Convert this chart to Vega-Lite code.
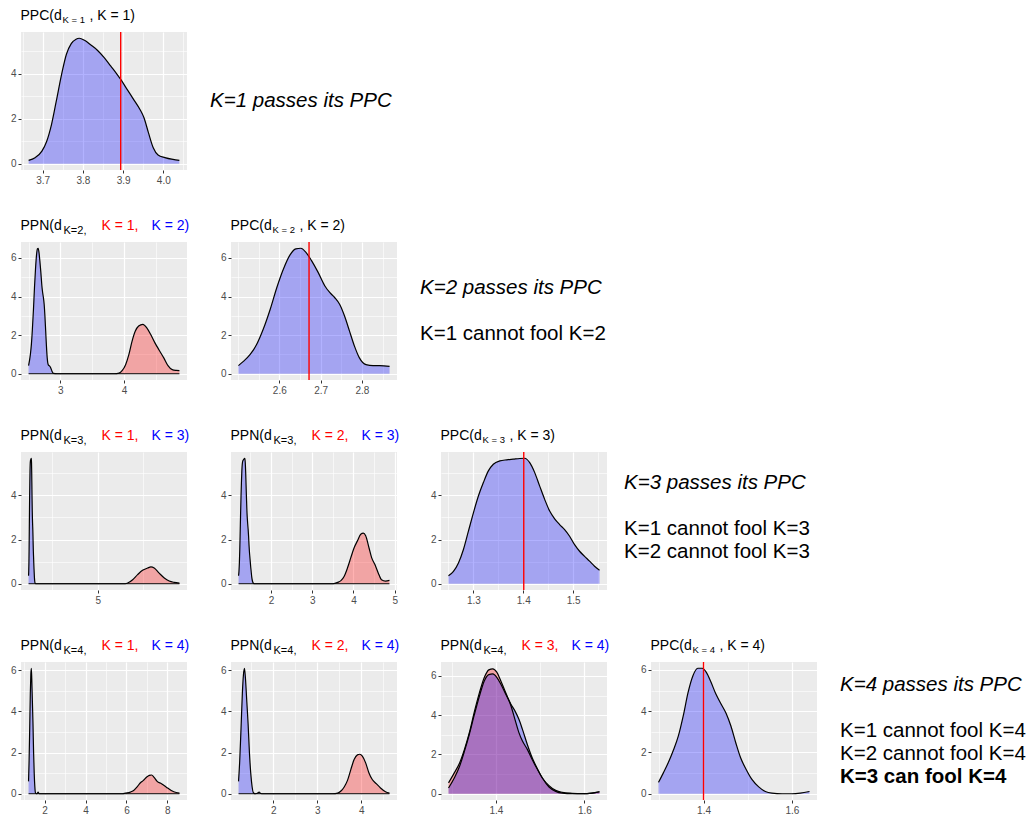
{
"$schema":"https://vega.github.io/schema/vega-lite/v6.json",
"background":"white",
"padding":{"left":10,"top":8,"right":2,"bottom":2},
"columns":5,
"bounds":"flush",
"spacing":{"row":72,"column":44},
"config":{"view":{"stroke":null},"font":"Liberation Sans",
 "axis":{"domain":false,"grid":true,"gridColor":"#FFFFFF","labelOverlap":false,"labelFlush":false,"labelFont":"Liberation Sans","labelFontSize":10,"labelColor":"#4D4D4D","labelPadding":2,"tickColor":"#333333","tickSize":3,"titleFont":"Liberation Sans","titleFontSize":13,"titleFontWeight":"normal","titleColor":"black","titleAngle":0,"titleAlign":"left","titleBaseline":"alphabetic"}},
"concat":[
{"width":166,"height":138,"view":{"fill":"#EBEBEB","stroke":null},
 "resolve":{"axis":{"x":"independent","y":"independent"}},
 "data":{"values":[{"s":"b","x":3.665,"y":0.15},{"s":"b","x":3.681,"y":0.27},{"s":"b","x":3.698,"y":0.56},{"s":"b","x":3.71,"y":1.0},{"s":"b","x":3.722,"y":1.75},{"s":"b","x":3.734,"y":2.8},{"s":"b","x":3.747,"y":3.97},{"s":"b","x":3.759,"y":4.86},{"s":"b","x":3.771,"y":5.33},{"s":"b","x":3.783,"y":5.53},{"s":"b","x":3.791,"y":5.57},{"s":"b","x":3.804,"y":5.48},{"s":"b","x":3.82,"y":5.27},{"s":"b","x":3.836,"y":5.04},{"s":"b","x":3.853,"y":4.71},{"s":"b","x":3.869,"y":4.34},{"s":"b","x":3.885,"y":3.97},{"s":"b","x":3.895,"y":3.72},{"s":"b","x":3.91,"y":3.3},{"s":"b","x":3.926,"y":2.86},{"s":"b","x":3.942,"y":2.41},{"s":"b","x":3.952,"y":2.04},{"s":"b","x":3.963,"y":1.38},{"s":"b","x":3.975,"y":0.71},{"s":"b","x":3.987,"y":0.39},{"s":"b","x":4.004,"y":0.27},{"s":"b","x":4.024,"y":0.19},{"s":"b","x":4.04,"y":0.15}]},
 "layer":[
  {"mark":{"type":"area","interpolate":"monotone","opacity":0.3},
   "encoding":{
    "x":{"field":"x","type":"quantitative","scale":{"domain":[3.646,4.059],"nice":false,"zero":false},
     "axis":{"values":[3.65,3.7,3.75,3.8,3.85,3.9,3.95,4,4.05],"format":".1f","labelExpr":"indexof([3.7,3.8,3.9,4], datum.value) >= 0 ? datum.label : ''","gridWidth":{"condition":{"test":"indexof([3.7,3.8,3.9,4], datum.value) >= 0","value":1.2},"value":0.6},"tickOpacity":{"condition":{"test":"indexof([3.7,3.8,3.9,4], datum.value) >= 0","value":1},"value":0},
      "title":"PPC(d","titleFontSize":14,"titleX":-1,"titleY":-150.5}},
    "y":{"field":"y","type":"quantitative","stack":null,"scale":{"domain":[-0.2785,5.8485],"nice":false,"zero":false},
     "axis":{"values":[0,1,2,3,4,5],"format":"d","labelExpr":"datum.value % 2 == 0 ? datum.label : ''","gridWidth":{"condition":{"test":"datum.value % 2 == 0","value":1.2},"value":0.6},"tickOpacity":{"condition":{"test":"datum.value % 2 == 0","value":1},"value":0},
      "title":", K = 1)","titleFontSize":14,"titleX":68,"titleY":-12.5}},
    "color":{"field":"s","type":"nominal","scale":{"domain":["r","b"],"range":["#FF0000","#0000FF"]},"legend":null}}},
  {"mark":{"type":"line","interpolate":"monotone","color":"black","strokeWidth":1.2},
   "encoding":{"x":{"field":"x","type":"quantitative","axis":{"orient":"top","labels":false,"ticks":false,"grid":false,"domain":false,"title":"K  =  1","titleFontSize":9.5,"titleX":41,"titleY":-10}},
    "y":{"field":"y","type":"quantitative","axis":null},"detail":{"field":"s","type":"nominal"}}},
  {"data":{"values":[{"x":3.894}]},"mark":{"type":"rule","color":"red","strokeWidth":1.4},"encoding":{"x":{"field":"x","type":"quantitative","axis":null}}}
 ]},
{"width":166,"height":138,
 "data":{"values":[{"line":0,"t":"K=1 passes its PPC","f":"i"}]},
 "encoding":{"y":{"field":"line","type":"quantitative","scale":{"domain":[-3,3],"reverse":true,"nice":false,"zero":false},"axis":null},"x":{"datum":0,"type":"quantitative","scale":{"domain":[0,1]},"axis":null},"text":{"field":"t"}},
 "layer":[
  {"transform":[{"filter":"datum.f == 'i'"}],"mark":{"type":"text","align":"left","baseline":"middle","dx":-21,"fontSize":20.5,"fontStyle":"italic","font":"Liberation Sans","color":"black"}}
 ]},
{"width":166,"height":138,"data":{"values":[]},"mark":"point"},
{"width":166,"height":138,"data":{"values":[]},"mark":"point"},
{"width":166,"height":138,"data":{"values":[]},"mark":"point"},

{"width":166,"height":138,"view":{"fill":"#EBEBEB","stroke":null},
 "resolve":{"axis":{"x":"independent","y":"independent"}},
 "data":{"values":[
  {"s":"b","x":2.501,"y":0.42},{"s":"b","x":2.529,"y":0.99},{"s":"b","x":2.545,"y":1.51},{"s":"b","x":2.561,"y":2.3},{"s":"b","x":2.578,"y":3.34},{"s":"b","x":2.594,"y":4.47},{"s":"b","x":2.61,"y":5.43},{"s":"b","x":2.626,"y":6.16},{"s":"b","x":2.64,"y":6.47},{"s":"b","x":2.652,"y":6.5},{"s":"b","x":2.664,"y":6.3},{"s":"b","x":2.678,"y":5.86},{"s":"b","x":2.694,"y":5.25},{"s":"b","x":2.71,"y":4.56},{"s":"b","x":2.722,"y":4.21},{"s":"b","x":2.734,"y":3.95},{"s":"b","x":2.746,"y":3.6},{"s":"b","x":2.758,"y":2.99},{"s":"b","x":2.77,"y":2.21},{"s":"b","x":2.782,"y":1.43},{"s":"b","x":2.794,"y":0.82},{"s":"b","x":2.81,"y":0.47},{"s":"b","x":2.83,"y":0.4},{"s":"b","x":2.85,"y":0.3},{"s":"b","x":2.87,"y":0.12},{"s":"b","x":2.89,"y":0.02},{"s":"b","x":2.95,"y":0},{"s":"b","x":4.872,"y":0},
  {"s":"r","x":2.501,"y":0},{"s":"r","x":3.85,"y":0},{"s":"r","x":3.923,"y":0.03},{"s":"r","x":3.974,"y":0.17},{"s":"r","x":4.026,"y":0.47},{"s":"r","x":4.077,"y":0.99},{"s":"r","x":4.128,"y":1.69},{"s":"r","x":4.179,"y":2.21},{"s":"r","x":4.231,"y":2.47},{"s":"r","x":4.297,"y":2.56},{"s":"r","x":4.359,"y":2.38},{"s":"r","x":4.421,"y":2.03},{"s":"r","x":4.487,"y":1.6},{"s":"r","x":4.554,"y":1.22},{"s":"r","x":4.626,"y":0.82},{"s":"r","x":4.692,"y":0.42},{"s":"r","x":4.759,"y":0.21},{"s":"r","x":4.821,"y":0.17},{"s":"r","x":4.872,"y":0.16}]},
 "layer":[
  {"mark":{"type":"area","interpolate":"monotone","opacity":0.3},
   "encoding":{
    "x":{"field":"x","type":"quantitative","scale":{"domain":[2.382,4.991],"nice":false,"zero":false},
     "axis":{"values":[2.5,3,3.5,4,4.5],"format":".0f","labelExpr":"indexof([3,4], datum.value) >= 0 ? datum.label : ''","gridWidth":{"condition":{"test":"indexof([3,4], datum.value) >= 0","value":1.2},"value":0.6},"tickOpacity":{"condition":{"test":"indexof([3,4], datum.value) >= 0","value":1},"value":0},
      "title":"PPN(d","titleFontSize":14,"titleX":-1,"titleY":-150.5}},
    "y":{"field":"y","type":"quantitative","stack":null,"scale":{"domain":[-0.325,6.825],"nice":false,"zero":false},
     "axis":{"values":[0,1,2,3,4,5,6],"format":"d","labelExpr":"datum.value % 2 == 0 ? datum.label : ''","gridWidth":{"condition":{"test":"datum.value % 2 == 0","value":1.2},"value":0.6},"tickOpacity":{"condition":{"test":"datum.value % 2 == 0","value":1},"value":0},
      "title":"K = 1,","titleColor":"#FF0000","titleFontSize":14,"titleX":80,"titleY":-12.5}},
    "color":{"field":"s","type":"nominal","scale":{"domain":["r","b"],"range":["#FF0000","#0000FF"]},"legend":null}}},
  {"mark":{"type":"line","interpolate":"monotone","color":"black","strokeWidth":1.2},
   "encoding":{"x":{"field":"x","type":"quantitative","axis":{"orient":"top","labels":false,"ticks":false,"grid":false,"domain":false,"title":"K=2,","titleFontSize":11,"titleX":42,"titleY":-8.5}},
    "y":{"field":"y","type":"quantitative","axis":{"orient":"right","labels":false,"ticks":false,"grid":false,"domain":false,"title":"K = 2)","titleColor":"#0000FF","titleFontSize":14,"titleX":-36,"titleY":-12.5}},"detail":{"field":"s","type":"nominal"}}}
 ]},
{"width":166,"height":138,"view":{"fill":"#EBEBEB","stroke":null},
 "resolve":{"axis":{"x":"independent","y":"independent"}},
 "data":{"values":[{"s":"b","x":2.501,"y":0.42},{"s":"b","x":2.513,"y":0.64},{"s":"b","x":2.529,"y":0.99},{"s":"b","x":2.545,"y":1.51},{"s":"b","x":2.561,"y":2.3},{"s":"b","x":2.578,"y":3.34},{"s":"b","x":2.594,"y":4.47},{"s":"b","x":2.61,"y":5.43},{"s":"b","x":2.626,"y":6.16},{"s":"b","x":2.64,"y":6.47},{"s":"b","x":2.652,"y":6.5},{"s":"b","x":2.664,"y":6.3},{"s":"b","x":2.678,"y":5.86},{"s":"b","x":2.694,"y":5.25},{"s":"b","x":2.71,"y":4.56},{"s":"b","x":2.722,"y":4.21},{"s":"b","x":2.734,"y":3.95},{"s":"b","x":2.746,"y":3.6},{"s":"b","x":2.758,"y":2.99},{"s":"b","x":2.77,"y":2.21},{"s":"b","x":2.782,"y":1.43},{"s":"b","x":2.794,"y":0.82},{"s":"b","x":2.81,"y":0.47},{"s":"b","x":2.827,"y":0.42},{"s":"b","x":2.843,"y":0.42},{"s":"b","x":2.867,"y":0.38}]},
 "layer":[
  {"mark":{"type":"area","interpolate":"monotone","opacity":0.3},
   "encoding":{
    "x":{"field":"x","type":"quantitative","scale":{"domain":[2.483,2.885],"nice":false,"zero":false},
     "axis":{"values":[2.5,2.55,2.6,2.65,2.7,2.75,2.8,2.85],"format":".1f","labelExpr":"indexof([2.6,2.7,2.8], datum.value) >= 0 ? datum.label : ''","gridWidth":{"condition":{"test":"indexof([2.6,2.7,2.8], datum.value) >= 0","value":1.2},"value":0.6},"tickOpacity":{"condition":{"test":"indexof([2.6,2.7,2.8], datum.value) >= 0","value":1},"value":0},
      "title":"PPC(d","titleFontSize":14,"titleX":-1,"titleY":-150.5}},
    "y":{"field":"y","type":"quantitative","stack":null,"scale":{"domain":[-0.325,6.825],"nice":false,"zero":false},
     "axis":{"values":[0,1,2,3,4,5,6],"format":"d","labelExpr":"datum.value % 2 == 0 ? datum.label : ''","gridWidth":{"condition":{"test":"datum.value % 2 == 0","value":1.2},"value":0.6},"tickOpacity":{"condition":{"test":"datum.value % 2 == 0","value":1},"value":0},
      "title":", K = 2)","titleFontSize":14,"titleX":68,"titleY":-12.5}},
    "color":{"field":"s","type":"nominal","scale":{"domain":["r","b"],"range":["#FF0000","#0000FF"]},"legend":null}}},
  {"mark":{"type":"line","interpolate":"monotone","color":"black","strokeWidth":1.2},
   "encoding":{"x":{"field":"x","type":"quantitative","axis":{"orient":"top","labels":false,"ticks":false,"grid":false,"domain":false,"title":"K  =  2","titleFontSize":9.5,"titleX":41,"titleY":-10}},
    "y":{"field":"y","type":"quantitative","axis":null},"detail":{"field":"s","type":"nominal"}}},
  {"data":{"values":[{"x":2.672}]},"mark":{"type":"rule","color":"red","strokeWidth":1.4},"encoding":{"x":{"field":"x","type":"quantitative","axis":null}}}
 ]},
{"width":166,"height":138,
 "data":{"values":[{"line":0,"t":"K=2 passes its PPC","f":"i"},{"line":2,"t":"K=1 cannot fool K=2","f":"n"}]},
 "encoding":{"y":{"field":"line","type":"quantitative","scale":{"domain":[-2,4],"reverse":true,"nice":false,"zero":false},"axis":null},"x":{"datum":0,"type":"quantitative","scale":{"domain":[0,1]},"axis":null},"text":{"field":"t"}},
 "layer":[
  {"transform":[{"filter":"datum.f == 'i'"}],"mark":{"type":"text","align":"left","baseline":"middle","dx":-21,"fontSize":20.5,"fontStyle":"italic","font":"Liberation Sans","color":"black"}},
  {"transform":[{"filter":"datum.f == 'n'"}],"mark":{"type":"text","align":"left","baseline":"middle","dx":-21,"fontSize":20.5,"font":"Liberation Sans","color":"black"}}
 ]},
{"width":166,"height":138,"data":{"values":[]},"mark":"point"},
{"width":166,"height":138,"data":{"values":[]},"mark":"point"},

{"width":166,"height":138,"view":{"fill":"#EBEBEB","stroke":null},
 "resolve":{"axis":{"x":"independent","y":"independent"}},
 "data":{"values":[
  {"s":"b","x":1.215,"y":0.36},{"s":"b","x":1.225,"y":0.56},{"s":"b","x":1.235,"y":0.94},{"s":"b","x":1.245,"y":1.55},{"s":"b","x":1.255,"y":2.38},{"s":"b","x":1.265,"y":3.21},{"s":"b","x":1.275,"y":3.97},{"s":"b","x":1.285,"y":4.58},{"s":"b","x":1.295,"y":5.11},{"s":"b","x":1.305,"y":5.41},{"s":"b","x":1.318,"y":5.56},{"s":"b","x":1.332,"y":5.61},{"s":"b","x":1.345,"y":5.64},{"s":"b","x":1.358,"y":5.67},{"s":"b","x":1.368,"y":5.68},{"s":"b","x":1.378,"y":5.48},{"s":"b","x":1.388,"y":5.03},{"s":"b","x":1.398,"y":4.42},{"s":"b","x":1.408,"y":3.82},{"s":"b","x":1.418,"y":3.29},{"s":"b","x":1.428,"y":2.94},{"s":"b","x":1.438,"y":2.68},{"s":"b","x":1.448,"y":2.45},{"s":"b","x":1.458,"y":2.15},{"s":"b","x":1.468,"y":1.77},{"s":"b","x":1.478,"y":1.47},{"s":"b","x":1.488,"y":1.24},{"s":"b","x":1.498,"y":1.02},{"s":"b","x":1.508,"y":0.79},{"s":"b","x":1.518,"y":0.61},{"s":"b","x":1.535,"y":0.3},{"s":"b","x":1.555,"y":0.1},{"s":"b","x":1.576,"y":0.02},{"s":"b","x":1.6,"y":0},{"s":"b","x":9.47,"y":0},
  {"s":"r","x":1.215,"y":0},{"s":"r","x":6.5,"y":0},{"s":"r","x":6.64,"y":0.03},{"s":"r","x":6.91,"y":0.18},{"s":"r","x":7.18,"y":0.41},{"s":"r","x":7.45,"y":0.61},{"s":"r","x":7.73,"y":0.71},{"s":"r","x":7.91,"y":0.76},{"s":"r","x":8.09,"y":0.71},{"s":"r","x":8.36,"y":0.48},{"s":"r","x":8.64,"y":0.26},{"s":"r","x":8.91,"y":0.12},{"s":"r","x":9.18,"y":0.06},{"s":"r","x":9.47,"y":0.03}]},
 "layer":[
  {"mark":{"type":"area","interpolate":"monotone","opacity":0.3},
   "encoding":{
    "x":{"field":"x","type":"quantitative","scale":{"domain":[0.802,9.883],"nice":false,"zero":false},
     "axis":{"values":[2.5,5,7.5],"format":".0f","labelExpr":"datum.value == 5 ? datum.label : ''","gridWidth":{"condition":{"test":"datum.value == 5","value":1.2},"value":0.6},"tickOpacity":{"condition":{"test":"datum.value == 5","value":1},"value":0},
      "title":"PPN(d","titleFontSize":14,"titleX":-1,"titleY":-150.5}},
    "y":{"field":"y","type":"quantitative","stack":null,"scale":{"domain":[-0.284,5.964],"nice":false,"zero":false},
     "axis":{"values":[0,1,2,3,4,5],"format":"d","labelExpr":"datum.value % 2 == 0 ? datum.label : ''","gridWidth":{"condition":{"test":"datum.value % 2 == 0","value":1.2},"value":0.6},"tickOpacity":{"condition":{"test":"datum.value % 2 == 0","value":1},"value":0},
      "title":"K = 1,","titleColor":"#FF0000","titleFontSize":14,"titleX":80,"titleY":-12.5}},
    "color":{"field":"s","type":"nominal","scale":{"domain":["r","b"],"range":["#FF0000","#0000FF"]},"legend":null}}},
  {"mark":{"type":"line","interpolate":"monotone","color":"black","strokeWidth":1.2},
   "encoding":{"x":{"field":"x","type":"quantitative","axis":{"orient":"top","labels":false,"ticks":false,"grid":false,"domain":false,"title":"K=3,","titleFontSize":11,"titleX":42,"titleY":-8.5}},
    "y":{"field":"y","type":"quantitative","axis":{"orient":"right","labels":false,"ticks":false,"grid":false,"domain":false,"title":"K = 3)","titleColor":"#0000FF","titleFontSize":14,"titleX":-36,"titleY":-12.5}},"detail":{"field":"s","type":"nominal"}}}
 ]},
{"width":166,"height":138,"view":{"fill":"#EBEBEB","stroke":null},
 "resolve":{"axis":{"x":"independent","y":"independent"}},
 "data":{"values":[
  {"s":"b","x":1.215,"y":0.36},{"s":"b","x":1.225,"y":0.56},{"s":"b","x":1.235,"y":0.94},{"s":"b","x":1.245,"y":1.55},{"s":"b","x":1.255,"y":2.38},{"s":"b","x":1.265,"y":3.21},{"s":"b","x":1.275,"y":3.97},{"s":"b","x":1.285,"y":4.58},{"s":"b","x":1.295,"y":5.11},{"s":"b","x":1.305,"y":5.41},{"s":"b","x":1.318,"y":5.56},{"s":"b","x":1.332,"y":5.61},{"s":"b","x":1.345,"y":5.64},{"s":"b","x":1.358,"y":5.67},{"s":"b","x":1.368,"y":5.68},{"s":"b","x":1.378,"y":5.48},{"s":"b","x":1.388,"y":5.03},{"s":"b","x":1.398,"y":4.42},{"s":"b","x":1.408,"y":3.82},{"s":"b","x":1.418,"y":3.29},{"s":"b","x":1.428,"y":2.94},{"s":"b","x":1.438,"y":2.68},{"s":"b","x":1.448,"y":2.45},{"s":"b","x":1.458,"y":2.15},{"s":"b","x":1.468,"y":1.77},{"s":"b","x":1.478,"y":1.47},{"s":"b","x":1.488,"y":1.24},{"s":"b","x":1.498,"y":1.02},{"s":"b","x":1.508,"y":0.79},{"s":"b","x":1.518,"y":0.61},{"s":"b","x":1.535,"y":0.3},{"s":"b","x":1.555,"y":0.1},{"s":"b","x":1.576,"y":0.02},{"s":"b","x":1.6,"y":0},{"s":"b","x":4.872,"y":0},
  {"s":"r","x":1.215,"y":0},{"s":"r","x":3.5,"y":0},{"s":"r","x":3.616,"y":0.06},{"s":"r","x":3.696,"y":0.14},{"s":"r","x":3.776,"y":0.34},{"s":"r","x":3.856,"y":0.72},{"s":"r","x":3.936,"y":1.18},{"s":"r","x":4.016,"y":1.63},{"s":"r","x":4.096,"y":1.94},{"s":"r","x":4.176,"y":2.24},{"s":"r","x":4.24,"y":2.29},{"s":"r","x":4.296,"y":2.17},{"s":"r","x":4.376,"y":1.63},{"s":"r","x":4.44,"y":1.18},{"s":"r","x":4.52,"y":0.87},{"s":"r","x":4.6,"y":0.49},{"s":"r","x":4.68,"y":0.18},{"s":"r","x":4.776,"y":0.12},{"s":"r","x":4.872,"y":0.15}]},
 "layer":[
  {"mark":{"type":"area","interpolate":"monotone","opacity":0.3},
   "encoding":{
    "x":{"field":"x","type":"quantitative","scale":{"domain":[1.032,5.055],"nice":false,"zero":false},
     "axis":{"values":[1.5,2,2.5,3,3.5,4,4.5,5],"format":".0f","labelExpr":"indexof([2,3,4,5], datum.value) >= 0 ? datum.label : ''","gridWidth":{"condition":{"test":"indexof([2,3,4,5], datum.value) >= 0","value":1.2},"value":0.6},"tickOpacity":{"condition":{"test":"indexof([2,3,4,5], datum.value) >= 0","value":1},"value":0},
      "title":"PPN(d","titleFontSize":14,"titleX":-1,"titleY":-150.5}},
    "y":{"field":"y","type":"quantitative","stack":null,"scale":{"domain":[-0.284,5.964],"nice":false,"zero":false},
     "axis":{"values":[0,1,2,3,4,5],"format":"d","labelExpr":"datum.value % 2 == 0 ? datum.label : ''","gridWidth":{"condition":{"test":"datum.value % 2 == 0","value":1.2},"value":0.6},"tickOpacity":{"condition":{"test":"datum.value % 2 == 0","value":1},"value":0},
      "title":"K = 2,","titleColor":"#FF0000","titleFontSize":14,"titleX":80,"titleY":-12.5}},
    "color":{"field":"s","type":"nominal","scale":{"domain":["r","b"],"range":["#FF0000","#0000FF"]},"legend":null}}},
  {"mark":{"type":"line","interpolate":"monotone","color":"black","strokeWidth":1.2},
   "encoding":{"x":{"field":"x","type":"quantitative","axis":{"orient":"top","labels":false,"ticks":false,"grid":false,"domain":false,"title":"K=3,","titleFontSize":11,"titleX":42,"titleY":-8.5}},
    "y":{"field":"y","type":"quantitative","axis":{"orient":"right","labels":false,"ticks":false,"grid":false,"domain":false,"title":"K = 3)","titleColor":"#0000FF","titleFontSize":14,"titleX":-36,"titleY":-12.5}},"detail":{"field":"s","type":"nominal"}}}
 ]},
{"width":166,"height":138,"view":{"fill":"#EBEBEB","stroke":null},
 "resolve":{"axis":{"x":"independent","y":"independent"}},
 "data":{"values":[{"s":"b","x":1.25,"y":0.36},{"s":"b","x":1.26,"y":0.56},{"s":"b","x":1.27,"y":0.94},{"s":"b","x":1.28,"y":1.55},{"s":"b","x":1.29,"y":2.38},{"s":"b","x":1.3,"y":3.21},{"s":"b","x":1.31,"y":3.97},{"s":"b","x":1.32,"y":4.58},{"s":"b","x":1.33,"y":5.11},{"s":"b","x":1.34,"y":5.41},{"s":"b","x":1.353,"y":5.56},{"s":"b","x":1.367,"y":5.61},{"s":"b","x":1.38,"y":5.64},{"s":"b","x":1.393,"y":5.67},{"s":"b","x":1.403,"y":5.68},{"s":"b","x":1.413,"y":5.48},{"s":"b","x":1.423,"y":5.03},{"s":"b","x":1.433,"y":4.42},{"s":"b","x":1.443,"y":3.82},{"s":"b","x":1.453,"y":3.29},{"s":"b","x":1.463,"y":2.94},{"s":"b","x":1.473,"y":2.68},{"s":"b","x":1.483,"y":2.45},{"s":"b","x":1.493,"y":2.15},{"s":"b","x":1.503,"y":1.77},{"s":"b","x":1.513,"y":1.47},{"s":"b","x":1.523,"y":1.24},{"s":"b","x":1.533,"y":1.02},{"s":"b","x":1.543,"y":0.79},{"s":"b","x":1.553,"y":0.61}]},
 "layer":[
  {"mark":{"type":"area","interpolate":"monotone","opacity":0.3},
   "encoding":{
    "x":{"field":"x","type":"quantitative","scale":{"domain":[1.235,1.568],"nice":false,"zero":false},
     "axis":{"values":[1.25,1.3,1.35,1.4,1.45,1.5,1.55],"format":".1f","labelExpr":"indexof([1.3,1.4,1.5], datum.value) >= 0 ? datum.label : ''","gridWidth":{"condition":{"test":"indexof([1.3,1.4,1.5], datum.value) >= 0","value":1.2},"value":0.6},"tickOpacity":{"condition":{"test":"indexof([1.3,1.4,1.5], datum.value) >= 0","value":1},"value":0},
      "title":"PPC(d","titleFontSize":14,"titleX":-1,"titleY":-150.5}},
    "y":{"field":"y","type":"quantitative","stack":null,"scale":{"domain":[-0.284,5.964],"nice":false,"zero":false},
     "axis":{"values":[0,1,2,3,4,5],"format":"d","labelExpr":"datum.value % 2 == 0 ? datum.label : ''","gridWidth":{"condition":{"test":"datum.value % 2 == 0","value":1.2},"value":0.6},"tickOpacity":{"condition":{"test":"datum.value % 2 == 0","value":1},"value":0},
      "title":", K = 3)","titleFontSize":14,"titleX":68,"titleY":-12.5}},
    "color":{"field":"s","type":"nominal","scale":{"domain":["r","b"],"range":["#FF0000","#0000FF"]},"legend":null}}},
  {"mark":{"type":"line","interpolate":"monotone","color":"black","strokeWidth":1.2},
   "encoding":{"x":{"field":"x","type":"quantitative","axis":{"orient":"top","labels":false,"ticks":false,"grid":false,"domain":false,"title":"K  =  3","titleFontSize":9.5,"titleX":41,"titleY":-10}},
    "y":{"field":"y","type":"quantitative","axis":null},"detail":{"field":"s","type":"nominal"}}},
  {"data":{"values":[{"x":1.401}]},"mark":{"type":"rule","color":"red","strokeWidth":1.4},"encoding":{"x":{"field":"x","type":"quantitative","axis":null}}}
 ]},
{"width":166,"height":138,
 "data":{"values":[{"line":0,"t":"K=3 passes its PPC","f":"i"},{"line":2,"t":"K=1 cannot fool K=3","f":"n"},{"line":3,"t":"K=2 cannot fool K=3","f":"n"}]},
 "encoding":{"y":{"field":"line","type":"quantitative","scale":{"domain":[-1.33,4.67],"reverse":true,"nice":false,"zero":false},"axis":null},"x":{"datum":0,"type":"quantitative","scale":{"domain":[0,1]},"axis":null},"text":{"field":"t"}},
 "layer":[
  {"transform":[{"filter":"datum.f == 'i'"}],"mark":{"type":"text","align":"left","baseline":"middle","dx":-27,"fontSize":20.5,"fontStyle":"italic","font":"Liberation Sans","color":"black"}},
  {"transform":[{"filter":"datum.f == 'n'"}],"mark":{"type":"text","align":"left","baseline":"middle","dx":-27,"fontSize":20.5,"font":"Liberation Sans","color":"black"}}
 ]},
{"width":166,"height":138,"data":{"values":[]},"mark":"point"},

{"width":166,"height":138,"view":{"fill":"#EBEBEB","stroke":null},
 "resolve":{"axis":{"x":"independent","y":"independent"}},
 "data":{"values":[
  {"s":"b","x":1.213,"y":0.6},{"s":"b","x":1.24,"y":1.6},{"s":"b","x":1.27,"y":3.2},{"s":"b","x":1.3,"y":4.9},{"s":"b","x":1.325,"y":5.8},{"s":"b","x":1.348,"y":6.1},{"s":"b","x":1.37,"y":5.6},{"s":"b","x":1.4,"y":4.5},{"s":"b","x":1.43,"y":3.4},{"s":"b","x":1.46,"y":2.0},{"s":"b","x":1.49,"y":1.0},{"s":"b","x":1.52,"y":0.35},{"s":"b","x":1.55,"y":0.05},{"s":"b","x":1.6,"y":0},{"s":"b","x":1.64,"y":0.02},{"s":"b","x":1.68,"y":0.08},{"s":"b","x":1.72,"y":0.01},{"s":"b","x":1.76,"y":0},{"s":"b","x":8.59,"y":0},
  {"s":"r","x":1.213,"y":0},{"s":"r","x":5.8,"y":0},{"s":"r","x":5.95,"y":0.03},{"s":"r","x":6.19,"y":0.08},{"s":"r","x":6.35,"y":0.16},{"s":"r","x":6.51,"y":0.32},{"s":"r","x":6.67,"y":0.52},{"s":"r","x":6.83,"y":0.65},{"s":"r","x":6.99,"y":0.81},{"s":"r","x":7.12,"y":0.89},{"s":"r","x":7.23,"y":0.91},{"s":"r","x":7.34,"y":0.81},{"s":"r","x":7.5,"y":0.6},{"s":"r","x":7.71,"y":0.49},{"s":"r","x":7.95,"y":0.32},{"s":"r","x":8.19,"y":0.16},{"s":"r","x":8.43,"y":0.06},{"s":"r","x":8.59,"y":0.03}]},
 "layer":[
  {"mark":{"type":"area","interpolate":"monotone","opacity":0.3},
   "encoding":{
    "x":{"field":"x","type":"quantitative","scale":{"domain":[0.844,8.959],"nice":false,"zero":false},
     "axis":{"values":[1,2,3,4,5,6,7,8],"format":".0f","labelExpr":"datum.value % 2 == 0 ? datum.label : ''","gridWidth":{"condition":{"test":"datum.value % 2 == 0","value":1.2},"value":0.6},"tickOpacity":{"condition":{"test":"datum.value % 2 == 0","value":1},"value":0},
      "title":"PPN(d","titleFontSize":14,"titleX":-1,"titleY":-150.5}},
    "y":{"field":"y","type":"quantitative","stack":null,"scale":{"domain":[-0.305,6.405],"nice":false,"zero":false},
     "axis":{"values":[0,1,2,3,4,5,6],"format":"d","labelExpr":"datum.value % 2 == 0 ? datum.label : ''","gridWidth":{"condition":{"test":"datum.value % 2 == 0","value":1.2},"value":0.6},"tickOpacity":{"condition":{"test":"datum.value % 2 == 0","value":1},"value":0},
      "title":"K = 1,","titleColor":"#FF0000","titleFontSize":14,"titleX":80,"titleY":-12.5}},
    "color":{"field":"s","type":"nominal","scale":{"domain":["r","b"],"range":["#FF0000","#0000FF"]},"legend":null}}},
  {"mark":{"type":"line","interpolate":"monotone","color":"black","strokeWidth":1.2},
   "encoding":{"x":{"field":"x","type":"quantitative","axis":{"orient":"top","labels":false,"ticks":false,"grid":false,"domain":false,"title":"K=4,","titleFontSize":11,"titleX":42,"titleY":-8.5}},
    "y":{"field":"y","type":"quantitative","axis":{"orient":"right","labels":false,"ticks":false,"grid":false,"domain":false,"title":"K = 4)","titleColor":"#0000FF","titleFontSize":14,"titleX":-36,"titleY":-12.5}},"detail":{"field":"s","type":"nominal"}}}
 ]},
{"width":166,"height":138,"view":{"fill":"#EBEBEB","stroke":null},
 "resolve":{"axis":{"x":"independent","y":"independent"}},
 "data":{"values":[
  {"s":"b","x":1.213,"y":0.6},{"s":"b","x":1.24,"y":1.6},{"s":"b","x":1.27,"y":3.2},{"s":"b","x":1.3,"y":4.9},{"s":"b","x":1.325,"y":5.8},{"s":"b","x":1.348,"y":6.1},{"s":"b","x":1.37,"y":5.6},{"s":"b","x":1.4,"y":4.5},{"s":"b","x":1.43,"y":3.4},{"s":"b","x":1.46,"y":2.0},{"s":"b","x":1.49,"y":1.0},{"s":"b","x":1.52,"y":0.35},{"s":"b","x":1.55,"y":0.05},{"s":"b","x":1.6,"y":0},{"s":"b","x":1.64,"y":0.02},{"s":"b","x":1.68,"y":0.08},{"s":"b","x":1.72,"y":0.01},{"s":"b","x":1.76,"y":0},{"s":"b","x":4.637,"y":0},
  {"s":"r","x":1.213,"y":0},{"s":"r","x":3.35,"y":0},{"s":"r","x":3.461,"y":0.03},{"s":"r","x":3.536,"y":0.13},{"s":"r","x":3.61,"y":0.33},{"s":"r","x":3.685,"y":0.65},{"s":"r","x":3.76,"y":1.17},{"s":"r","x":3.835,"y":1.66},{"s":"r","x":3.91,"y":1.89},{"s":"r","x":3.963,"y":1.92},{"s":"r","x":4.022,"y":1.83},{"s":"r","x":4.097,"y":1.5},{"s":"r","x":4.172,"y":1.01},{"s":"r","x":4.247,"y":0.69},{"s":"r","x":4.337,"y":0.49},{"s":"r","x":4.434,"y":0.28},{"s":"r","x":4.547,"y":0.1},{"s":"r","x":4.637,"y":0.03}]},
 "layer":[
  {"mark":{"type":"area","interpolate":"monotone","opacity":0.3},
   "encoding":{
    "x":{"field":"x","type":"quantitative","scale":{"domain":[1.042,4.808],"nice":false,"zero":false},
     "axis":{"values":[1.5,2,2.5,3,3.5,4,4.5],"format":".0f","labelExpr":"indexof([2,3,4], datum.value) >= 0 ? datum.label : ''","gridWidth":{"condition":{"test":"indexof([2,3,4], datum.value) >= 0","value":1.2},"value":0.6},"tickOpacity":{"condition":{"test":"indexof([2,3,4], datum.value) >= 0","value":1},"value":0},
      "title":"PPN(d","titleFontSize":14,"titleX":-1,"titleY":-150.5}},
    "y":{"field":"y","type":"quantitative","stack":null,"scale":{"domain":[-0.305,6.405],"nice":false,"zero":false},
     "axis":{"values":[0,1,2,3,4,5,6],"format":"d","labelExpr":"datum.value % 2 == 0 ? datum.label : ''","gridWidth":{"condition":{"test":"datum.value % 2 == 0","value":1.2},"value":0.6},"tickOpacity":{"condition":{"test":"datum.value % 2 == 0","value":1},"value":0},
      "title":"K = 2,","titleColor":"#FF0000","titleFontSize":14,"titleX":80,"titleY":-12.5}},
    "color":{"field":"s","type":"nominal","scale":{"domain":["r","b"],"range":["#FF0000","#0000FF"]},"legend":null}}},
  {"mark":{"type":"line","interpolate":"monotone","color":"black","strokeWidth":1.2},
   "encoding":{"x":{"field":"x","type":"quantitative","axis":{"orient":"top","labels":false,"ticks":false,"grid":false,"domain":false,"title":"K=4,","titleFontSize":11,"titleX":42,"titleY":-8.5}},
    "y":{"field":"y","type":"quantitative","axis":{"orient":"right","labels":false,"ticks":false,"grid":false,"domain":false,"title":"K = 4)","titleColor":"#0000FF","titleFontSize":14,"titleX":-36,"titleY":-12.5}},"detail":{"field":"s","type":"nominal"}}}
 ]},
{"width":166,"height":138,"view":{"fill":"#EBEBEB","stroke":null},
 "resolve":{"axis":{"x":"independent","y":"independent"}},
 "data":{"values":[
  {"s":"r","x":1.293,"y":0.55},{"s":"r","x":1.306,"y":1.06},{"s":"r","x":1.318,"y":1.57},{"s":"r","x":1.329,"y":2.26},{"s":"r","x":1.34,"y":3.11},{"s":"r","x":1.351,"y":4.14},{"s":"r","x":1.363,"y":5.16},{"s":"r","x":1.374,"y":5.93},{"s":"r","x":1.384,"y":6.31},{"s":"r","x":1.393,"y":6.36},{"s":"r","x":1.402,"y":6.19},{"s":"r","x":1.411,"y":5.76},{"s":"r","x":1.422,"y":5.16},{"s":"r","x":1.434,"y":4.48},{"s":"r","x":1.443,"y":3.79},{"s":"r","x":1.452,"y":3.11},{"s":"r","x":1.46,"y":2.68},{"s":"r","x":1.471,"y":2.26},{"s":"r","x":1.482,"y":1.74},{"s":"r","x":1.494,"y":1.23},{"s":"r","x":1.505,"y":0.8},{"s":"r","x":1.52,"y":0.41},{"s":"r","x":1.535,"y":0.17},{"s":"r","x":1.55,"y":0.07},{"s":"r","x":1.572,"y":0.02},{"s":"r","x":1.595,"y":0},{"s":"r","x":1.617,"y":0.03},{"s":"r","x":1.634,"y":0.1},
  {"s":"b","x":1.293,"y":0.29},{"s":"b","x":1.306,"y":0.8},{"s":"b","x":1.318,"y":1.4},{"s":"b","x":1.329,"y":2.17},{"s":"b","x":1.34,"y":3.03},{"s":"b","x":1.351,"y":4.0},{"s":"b","x":1.363,"y":4.99},{"s":"b","x":1.374,"y":5.76},{"s":"b","x":1.384,"y":6.07},{"s":"b","x":1.393,"y":6.1},{"s":"b","x":1.402,"y":5.93},{"s":"b","x":1.411,"y":5.59},{"s":"b","x":1.422,"y":5.08},{"s":"b","x":1.434,"y":4.56},{"s":"b","x":1.443,"y":4.22},{"s":"b","x":1.452,"y":3.79},{"s":"b","x":1.46,"y":3.28},{"s":"b","x":1.471,"y":2.51},{"s":"b","x":1.482,"y":1.83},{"s":"b","x":1.494,"y":1.26},{"s":"b","x":1.505,"y":0.8},{"s":"b","x":1.52,"y":0.34},{"s":"b","x":1.535,"y":0.12},{"s":"b","x":1.55,"y":0.03},{"s":"b","x":1.572,"y":0},{"s":"b","x":1.595,"y":0},{"s":"b","x":1.617,"y":0.03},{"s":"b","x":1.634,"y":0.1}]},
 "layer":[
  {"mark":{"type":"area","interpolate":"monotone","opacity":0.3},
   "encoding":{
    "x":{"field":"x","type":"quantitative","scale":{"domain":[1.276,1.651],"nice":false,"zero":false},
     "axis":{"values":[1.3,1.4,1.5,1.6],"format":".1f","labelExpr":"indexof([1.4,1.6], datum.value) >= 0 ? datum.label : ''","gridWidth":{"condition":{"test":"indexof([1.4,1.6], datum.value) >= 0","value":1.2},"value":0.6},"tickOpacity":{"condition":{"test":"indexof([1.4,1.6], datum.value) >= 0","value":1},"value":0},
      "title":"PPN(d","titleFontSize":14,"titleX":-1,"titleY":-150.5}},
    "y":{"field":"y","type":"quantitative","stack":null,"scale":{"domain":[-0.32,6.71],"nice":false,"zero":false},
     "axis":{"values":[0,1,2,3,4,5,6],"format":"d","labelExpr":"datum.value % 2 == 0 ? datum.label : ''","gridWidth":{"condition":{"test":"datum.value % 2 == 0","value":1.2},"value":0.6},"tickOpacity":{"condition":{"test":"datum.value % 2 == 0","value":1},"value":0},
      "title":"K = 3,","titleColor":"#FF0000","titleFontSize":14,"titleX":80,"titleY":-12.5}},
    "color":{"field":"s","type":"nominal","scale":{"domain":["r","b"],"range":["#FF0000","#0000FF"]},"legend":null}}},
  {"mark":{"type":"line","interpolate":"monotone","color":"black","strokeWidth":1.2},
   "encoding":{"x":{"field":"x","type":"quantitative","axis":{"orient":"top","labels":false,"ticks":false,"grid":false,"domain":false,"title":"K=4,","titleFontSize":11,"titleX":42,"titleY":-8.5}},
    "y":{"field":"y","type":"quantitative","axis":{"orient":"right","labels":false,"ticks":false,"grid":false,"domain":false,"title":"K = 4)","titleColor":"#0000FF","titleFontSize":14,"titleX":-36,"titleY":-12.5}},"detail":{"field":"s","type":"nominal"}}}
 ]},
{"width":166,"height":138,"view":{"fill":"#EBEBEB","stroke":null},
 "resolve":{"axis":{"x":"independent","y":"independent"}},
 "data":{"values":[{"s":"b","x":1.298,"y":0.55},{"s":"b","x":1.309,"y":1.01},{"s":"b","x":1.32,"y":1.5},{"s":"b","x":1.331,"y":2.07},{"s":"b","x":1.343,"y":2.8},{"s":"b","x":1.354,"y":3.77},{"s":"b","x":1.365,"y":4.91},{"s":"b","x":1.376,"y":5.72},{"s":"b","x":1.387,"y":6.08},{"s":"b","x":1.397,"y":6.08},{"s":"b","x":1.406,"y":5.89},{"s":"b","x":1.417,"y":5.4},{"s":"b","x":1.428,"y":4.83},{"s":"b","x":1.44,"y":4.34},{"s":"b","x":1.451,"y":3.9},{"s":"b","x":1.462,"y":3.28},{"s":"b","x":1.473,"y":2.47},{"s":"b","x":1.484,"y":1.74},{"s":"b","x":1.496,"y":1.2},{"s":"b","x":1.51,"y":0.68},{"s":"b","x":1.525,"y":0.33},{"s":"b","x":1.54,"y":0.11},{"s":"b","x":1.555,"y":0.03},{"s":"b","x":1.578,"y":0},{"s":"b","x":1.6,"y":0},{"s":"b","x":1.619,"y":0.03},{"s":"b","x":1.64,"y":0.11}]},
 "layer":[
  {"mark":{"type":"area","interpolate":"monotone","opacity":0.3},
   "encoding":{
    "x":{"field":"x","type":"quantitative","scale":{"domain":[1.281,1.657],"nice":false,"zero":false},
     "axis":{"values":[1.3,1.4,1.5,1.6],"format":".1f","labelExpr":"indexof([1.4,1.6], datum.value) >= 0 ? datum.label : ''","gridWidth":{"condition":{"test":"indexof([1.4,1.6], datum.value) >= 0","value":1.2},"value":0.6},"tickOpacity":{"condition":{"test":"indexof([1.4,1.6], datum.value) >= 0","value":1},"value":0},
      "title":"PPC(d","titleFontSize":14,"titleX":-1,"titleY":-150.5}},
    "y":{"field":"y","type":"quantitative","stack":null,"scale":{"domain":[-0.304,6.384],"nice":false,"zero":false},
     "axis":{"values":[0,1,2,3,4,5,6],"format":"d","labelExpr":"datum.value % 2 == 0 ? datum.label : ''","gridWidth":{"condition":{"test":"datum.value % 2 == 0","value":1.2},"value":0.6},"tickOpacity":{"condition":{"test":"datum.value % 2 == 0","value":1},"value":0},
      "title":", K = 4)","titleFontSize":14,"titleX":68,"titleY":-12.5}},
    "color":{"field":"s","type":"nominal","scale":{"domain":["r","b"],"range":["#FF0000","#0000FF"]},"legend":null}}},
  {"mark":{"type":"line","interpolate":"monotone","color":"black","strokeWidth":1.2},
   "encoding":{"x":{"field":"x","type":"quantitative","axis":{"orient":"top","labels":false,"ticks":false,"grid":false,"domain":false,"title":"K  =  4","titleFontSize":9.5,"titleX":41,"titleY":-10}},
    "y":{"field":"y","type":"quantitative","axis":null},"detail":{"field":"s","type":"nominal"}}},
  {"data":{"values":[{"x":1.4}]},"mark":{"type":"rule","color":"red","strokeWidth":1.4},"encoding":{"x":{"field":"x","type":"quantitative","axis":null}}}
 ]},
{"width":166,"height":138,
 "data":{"values":[{"line":0,"t":"K=4 passes its PPC","f":"i"},{"line":2,"t":"K=1 cannot fool K=4","f":"n"},{"line":3,"t":"K=2 cannot fool K=4","f":"n"},{"line":4,"t":"K=3 can fool K=4","f":"b"}]},
 "encoding":{"y":{"field":"line","type":"quantitative","scale":{"domain":[-1,5],"reverse":true,"nice":false,"zero":false},"axis":null},"x":{"datum":0,"type":"quantitative","scale":{"domain":[0,1]},"axis":null},"text":{"field":"t"}},
 "layer":[
  {"transform":[{"filter":"datum.f == 'i'"}],"mark":{"type":"text","align":"left","baseline":"middle","dx":-21,"fontSize":20.5,"fontStyle":"italic","font":"Liberation Sans","color":"black"}},
  {"transform":[{"filter":"datum.f == 'n'"}],"mark":{"type":"text","align":"left","baseline":"middle","dx":-21,"fontSize":20.5,"font":"Liberation Sans","color":"black"}},
  {"transform":[{"filter":"datum.f == 'b'"}],"mark":{"type":"text","align":"left","baseline":"middle","dx":-21,"fontSize":20.5,"fontWeight":"bold","font":"Liberation Sans","color":"black"}}
 ]}
]
}
